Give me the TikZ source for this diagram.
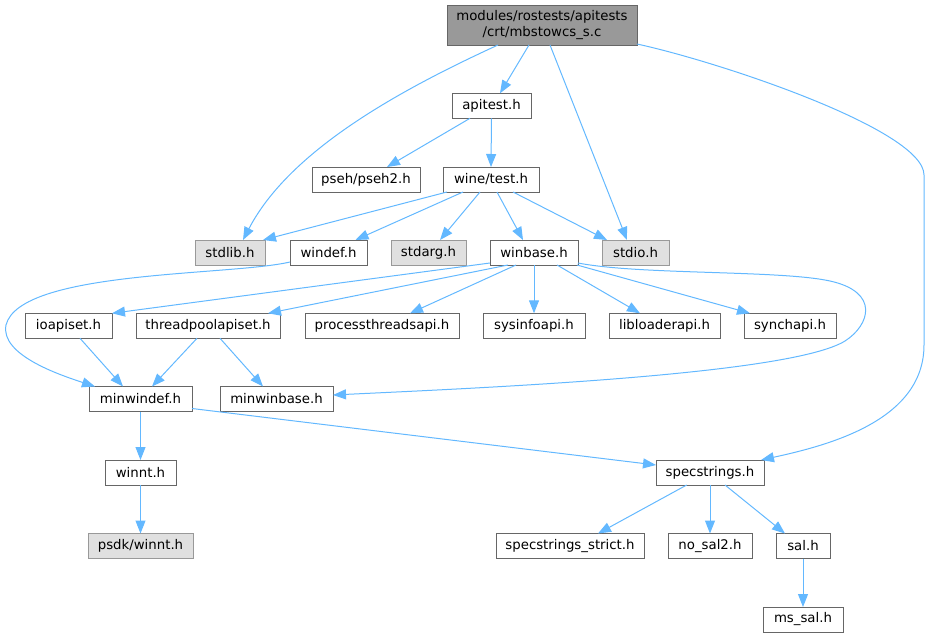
\documentclass[tikz,border=0pt]{standalone}
\usepackage{fontspec}
\setmainfont{DejaVu Sans}
\usetikzlibrary{arrows.meta,calc}
\definecolor{edgec}{HTML}{63B8FF}
\definecolor{bord}{HTML}{666666}
\definecolor{gbord}{HTML}{999999}
\definecolor{gfill}{HTML}{E0E0E0}
\definecolor{tfill}{HTML}{999999}
\begin{document}
\begin{tikzpicture}[x=1pt,y=-1pt,
 every node/.style={font=\fontsize{13.3}{16}\selectfont, inner sep=0pt, outer sep=0pt},
 filebox/.style={draw=bord, fill=white, line width=1pt, minimum height=25pt},
 extbox/.style={draw=gbord, fill=gfill, line width=1pt, minimum height=25pt},
 topbox/.style={draw=bord, fill=tfill, line width=1pt, minimum height=40pt, align=center},
 dep/.style={draw=edgec, line width=1pt, -{Triangle[length=13pt,width=10pt]}}]
\useasboundingbox (0,0) rectangle (930,637);
% nodes
\node[topbox, minimum width=190pt] (top) at (542,25) {modules/rostests/apitests\\/crt/mbstowcs\_s.c};
\node[filebox, minimum width=79pt] (apitest) at (491.5,105.8) {apitest.h};
\node[filebox, minimum width=108pt] (pseh) at (366,179.5) {pseh/pseh2.h};
\node[filebox, minimum width=96pt] (winetest) at (491,179.5) {wine/test.h};
\node[extbox, minimum width=70pt] (stdlib) at (230,252.5) {stdlib.h};
\node[filebox, minimum width=77pt] (windef) at (328.5,252.5) {windef.h};
\node[extbox, minimum width=75pt] (stdarg) at (428.5,252.5) {stdarg.h};
\node[filebox, minimum width=88pt] (winbase) at (534,252.5) {winbase.h};
\node[extbox, minimum width=67pt] (stdio) at (635.5,252.5) {stdio.h};
\node[filebox, minimum width=87pt] (ioapiset) at (68.5,325.8) {ioapiset.h};
\node[filebox, minimum width=144pt] (threadpool) at (208,325.8) {threadpoolapiset.h};
\node[filebox, minimum width=154pt] (processthreads) at (382,325.8) {processthreadsapi.h};
\node[filebox, minimum width=102pt] (sysinfo) at (534,325.8) {sysinfoapi.h};
\node[filebox, minimum width=111pt] (libloader) at (664.5,325.8) {libloaderapi.h};
\node[filebox, minimum width=92pt] (synchapi) at (790,325.8) {synchapi.h};
\node[filebox, minimum width=103pt] (minwindef) at (140.5,399) {minwindef.h};
\node[filebox, minimum width=113pt] (minwinbase) at (276.5,399) {minwinbase.h};
\node[filebox, minimum width=71pt] (winnt) at (140.5,472.5) {winnt.h};
\node[filebox, minimum width=108pt] (specstrings) at (710,472.5) {specstrings.h};
\node[extbox, minimum width=105pt] (psdkwinnt) at (140.5,546) {psdk/winnt.h};
\node[filebox, minimum width=148pt] (strict) at (570,546) {specstrings\_strict.h};
\node[filebox, minimum width=84pt] (nosal) at (710,546) {no\_sal2.h};
\node[filebox, minimum width=54pt] (sal) at (803,546) {sal.h};
\node[filebox, minimum width=80pt] (mssal) at (803,619.5) {ms\_sal.h};
% edges from top
\draw[dep] ($(top.south)+(-44,0)$) .. controls (400,90) and (290,150) .. ($(stdlib.north)+(13,0)$);
\draw[dep] ($(top.south)+(-13,0)$) -- ($(apitest.north)+(8.5,0)$);
\draw[dep] ($(top.south)+(8,0)$) -- ($(stdio.north)+(-8.5,0)$);
\draw[dep] ($(top.south east)+(0,-1)$) .. controls (720,62) and (924,130) .. (924,175) -- (924,345) .. controls (924,420) and (830,445) .. ($(specstrings.north east)+(-3,0)$);
% apitest
\draw[dep] ($(apitest.south)+(-21.5,0)$) -- ($(pseh.north)+(21,0)$);
\draw[dep] (apitest.south) -- (winetest.north);
% wine/test
\draw[dep] ($(winetest.south)+(-44,0)$) -- ($(stdlib.north east)+(-2,0)$);
\draw[dep] ($(winetest.south)+(-28,0)$) -- ($(windef.north)+(27,0)$);
\draw[dep] ($(winetest.south)+(-11,0)$) -- ($(stdarg.north)+(11.5,0)$);
\draw[dep] ($(winetest.south)+(6,0)$) -- ($(winbase.north)+(-11,0)$);
\draw[dep] ($(winetest.south)+(22,0)$) -- ($(stdio.north west)+(5,0)$);
% windef
\draw[dep] ($(windef.south west)+(0,-3)$) .. controls (230,276) and (20,270) .. (6,325) .. controls (0,355) and (60,375) .. ($(minwindef.north west)+(6,0)$);
% winbase
\draw[dep] ($(winbase.south west)+(0,-2)$) -- (ioapiset.north east);
\draw[dep] ($(winbase.south)+(-26,0)$) -- ($(threadpool.north)+(60,0)$);
\draw[dep] ($(winbase.south)+(-18,0)$) -- ($(processthreads.north)+(28,0)$);
\draw[dep] (winbase.south) -- (sysinfo.north);
\draw[dep] ($(winbase.south)+(23,0)$) -- ($(libloader.north)+(-24.5,0)$);
\draw[dep] ($(winbase.south east)+(-1,0)$) -- ($(synchapi.north)+(-40,0)$);
\draw[dep] ($(winbase.south east)+(0,-2)$) .. controls (640,275) and (780,270) .. (830,281) .. controls (880,292) and (870,325) .. (845,341) .. controls (790,375) and (480,388) .. ($(minwinbase.east)+(0,-4)$);
% lower level
\draw[dep] ($(ioapiset.south)+(11.5,0)$) -- ($(minwindef.north)+(-17.5,0)$);
\draw[dep] ($(threadpool.south)+(-11,0)$) -- ($(minwindef.north)+(11.5,0)$);
\draw[dep] ($(threadpool.south)+(12,0)$) -- ($(minwinbase.north)+(-13.5,0)$);
\draw[dep] (minwindef.south) -- (winnt.north);
\draw[dep] ($(minwindef.south east)+(0,-3)$) -- ($(specstrings.west)+(0,-7.5)$);
\draw[dep] (winnt.south) -- (psdkwinnt.north);
\draw[dep] ($(specstrings.south)+(-23.3,0)$) -- ($(strict.north)+(28,0)$);
\draw[dep] (specstrings.south) -- (nosal.north);
\draw[dep] ($(specstrings.south)+(15,0)$) -- ($(sal.north)+(-18,0)$);
\draw[dep] (sal.south) -- (mssal.north);
\end{tikzpicture}
\end{document}
